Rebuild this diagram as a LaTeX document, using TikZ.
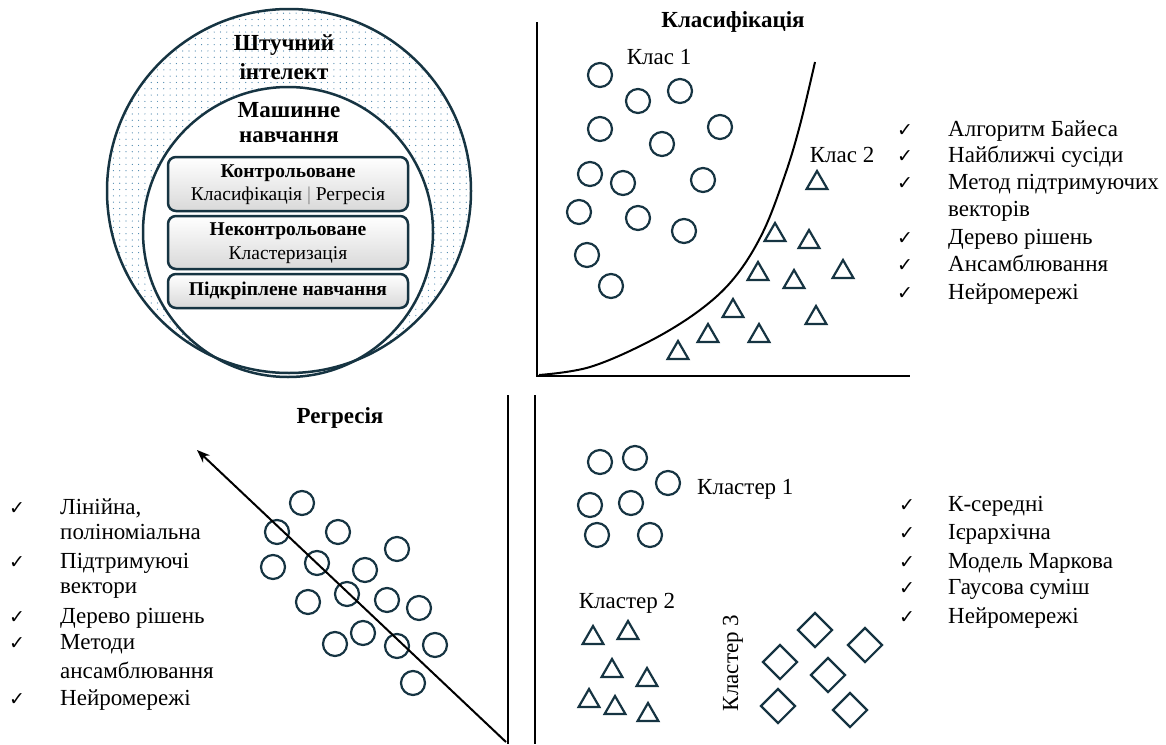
\documentclass[tikz,border=0pt]{standalone}
\usepackage{fontspec}
\setmainfont{Liberation Serif}
\newfontfamily\symf{DejaVu Sans}
\usetikzlibrary{shapes.geometric,arrows.meta,patterns.meta}
\definecolor{drk}{RGB}{22,52,66}
\definecolor{dotc}{RGB}{70,130,170}
\begin{document}
\begin{tikzpicture}[x=1pt,y=-1pt,
  pt/.style={circle,draw=drk,line width=2.2pt,minimum size=24pt,inner sep=0pt},
  tri/.style={regular polygon,regular polygon sides=3,draw=drk,line width=2.2pt,minimum size=24pt,inner sep=0pt},
  dia/.style={diamond,draw=drk,line width=2.2pt,minimum width=35pt,minimum height=35pt,inner sep=0pt},
  lst/.style={anchor=base west,inner sep=0pt,font=\fontsize{23}{27}\selectfont},
  chk/.style={anchor=base,inner sep=0pt,font=\symf\fontsize{19}{22}\selectfont},
  ttl/.style={inner sep=0pt,font=\bfseries\fontsize{23}{27}\selectfont},
  lbl/.style={inner sep=0pt,font=\fontsize{23}{27}\selectfont},
  axis/.style={black,line width=2.2pt},
  mlbox/.style={draw=drk,line width=2.5pt,rounded corners=8pt,top color=white,bottom color=gray!30,inner sep=0pt},
  boxb/.style={inner sep=0pt,font=\bfseries\fontsize{19.5}{23}\selectfont},
  boxn/.style={inner sep=0pt,font=\fontsize{19.5}{23}\selectfont}
]
\useasboundingbox (0,0) rectangle (1166,744);

% ---------- AI / ML circles ----------
\path[pattern={Dots[distance=6.3pt,radius=0.6pt]},pattern color=dotc] (289,191) circle[radius=182];
\fill[white] (288,232) circle[radius=145];
\draw[drk,line width=2.5pt] (289,191) circle[radius=182];
\draw[drk,line width=2.5pt] (288,232) circle[radius=145];
\node[ttl] (ai1) at (284,45) {Штучний};
\node[ttl] (ai2) at (284,72) {інтелект};
\node[ttl] (ml1) at (289,110) {Машинне};
\node[ttl] (ml2) at (289,137) {навчання};
\path[mlbox] (168,157) rectangle (408,211);
\path[mlbox] (168,216) rectangle (408,269);
\path[mlbox] (168,274) rectangle (408,308);
\node[boxb] (b1a) at (288,173) {Контрольоване};
\node[boxn] (b1b) at (288,196) {Класифікація {\color{gray}|} Регресія};
\node[boxb] (b2a) at (288,231) {Неконтрольоване};
\node[boxn] (b2b) at (288,255) {Кластеризація};
\node[boxb] (b3a) at (288,291) {Підкріплене навчання};

% ---------- Classification ----------
\node[ttl] (tcls) at (733,22) {Класифікація};
\draw[axis] (537,22) -- (537,376) -- (910,376);
\draw[black,line width=2pt] plot[smooth,tension=0.6] coordinates {(539,375) (590,367) (650,341) (700,310) (735,277) (763,232) (785,175) (800,125) (815,62)};
\node[lbl] (k1) at (659,57) {Клас 1};
\node[lbl] (k2) at (842,155) {Клас 2};
\foreach \x/\y [count=\i] in {600/75,638/101,680/91,720/127,600/129,662/144,590/174,623/183,703/180,579/212,638/218,684/231,587/255,611/286}
  \node[pt] (c\i) at (\x,\y) {};
\foreach \x/\y [count=\i] in {817/180,775/232,809/239,758/271,794/279,843/269,733/308,816/315,708/333,759/333,678/350}
  \node[tri] (t\i) at (\x,\y+3) {};
\foreach \t/\y/\c [count=\i] in {{Алгоритм Байеса}/136/1,{Найближчі сусіди}/162/1,{Метод підтримуючих}/189/1,{векторів}/216/0,{Дерево рішень}/244/1,{Ансамблювання}/271/1,{Нейромережі}/299/1}{
  \node[lst] (cl\i) at (948,\y) {\t};
  \ifnum\c=1 \node[chk] (cc\i) at (905,\y) {✓};\fi
}

% ---------- Regression ----------
\node[ttl] (treg) at (340,418) {Регресія};
\draw[axis] (508,395) -- (508,744);
\foreach \x/\y [count=\i] in {302/503,277/532,338/532,397/549,273/567,317/563,365/570,347/594,308/602,387/600,419/608,363/633,335/644,397/646,435/645,413/683}
  \node[pt] (r\i) at (\x,\y) {};
\coordinate (ra) at (506,742);
\coordinate (rb) at (197,450);
\draw[black,line width=2pt,-{Stealth[length=13pt,width=10pt]}] (ra) -- (rb);
\foreach \t/\y/\c [count=\i] in {{Лінійна,}/514/1,{поліноміальна}/539/0,{Підтримуючі}/568/1,{вектори}/593/0,{Дерево рішень}/623/1,{Методи}/649/1,{ансамблювання}/678/0,{Нейромережі}/705/1}{
  \node[lst] (rl\i) at (60,\y) {\t};
  \ifnum\c=1 \node[chk] (rc\i) at (17,\y) {✓};\fi
}

% ---------- Clustering ----------
\draw[axis] (535,395) -- (535,744);
\foreach \x/\y [count=\i] in {600/462,635/458,668/483,590/505,631/503,597/535,650/535}
  \node[pt] (q\i) at (\x,\y) {};
\node[lbl,anchor=west] (kl1) at (697,489) {Кластер 1};
\node[lbl] (kl2) at (627,603) {Кластер 2};
\foreach \x/\y [count=\i] in {593/635,628/630,612/668,647/677,589/698,615/705,648/712}
  \node[tri] (s\i) at (\x,\y+3) {};
\node[lbl,rotate=90] (kl3) at (733,663) {Кластер 3};
\foreach \x/\y [count=\i] in {815/630,865/645,780/662,828/675,778/706,850/710}
  \node[dia] (d\i) at (\x,\y) {};
\foreach \t/\y [count=\i] in {{К-середні}/511,{Ієрархічна}/539,{Модель Маркова}/568,{Гаусова суміш}/594,{Нейромережі}/623}{
  \node[lst] (ql\i) at (948,\y) {\t};
  \node[chk] (qc\i) at (907,\y) {✓};
}
\end{tikzpicture}
\end{document}
